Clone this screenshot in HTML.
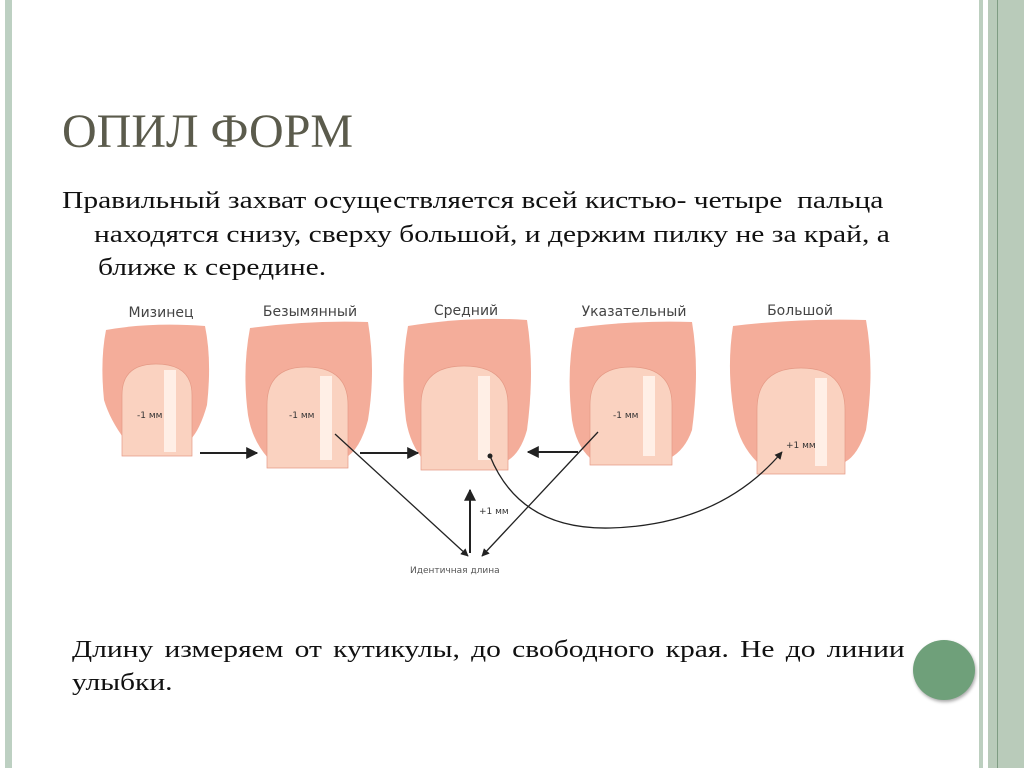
<!DOCTYPE html>
<html><head><meta charset="utf-8"><style>
body{margin:0;width:1024px;height:768px;background:#fff;position:relative;overflow:hidden;font-family:"Liberation Serif",serif}
.t{position:absolute;white-space:nowrap}
.b{font-size:24px;color:#111;transform:scaleX(1.23);transform-origin:0 0}
</style></head><body>
<div style="position:absolute;left:5px;top:0;width:7px;height:768px;background:#bdd0c2"></div>
<div style="position:absolute;left:979px;top:0;width:4px;height:768px;background:#bccfbf"></div>
<div style="position:absolute;left:988px;top:0;width:36px;height:768px;background:#b9cbba"></div>
<div style="position:absolute;left:997px;top:0;width:1px;height:768px;background:#7f9c83"></div>
<div class="t" style="left:62px;top:104px;font-size:48px;color:#5b5b4c">ОПИЛ ФОРМ</div>
<div class="t b" style="left:62px;top:188px">Правильный захват осуществляется всей кистью- четыре&nbsp; пальца</div>
<div class="t b" style="left:94px;top:222px">находятся снизу, сверху большой, и держим пилку не за край, а</div>
<div class="t b" style="left:98px;top:255px">ближе к середине.</div>
<div class="t b" style="left:72px;top:637px;width:677px;display:flex;justify-content:space-between"><span>Длину</span><span>измеряем</span><span>от</span><span>кутикулы,</span><span>до</span><span>свободного</span><span>края.</span><span>Не</span><span>до</span><span>линии</span></div>
<div class="t b" style="left:72px;top:670px">улыбки.</div>
<div style="position:absolute;left:913px;top:640px;width:62px;height:60px;border-radius:50%;background:#6fa07a;box-shadow:1px 2px 3px #aaa"></div>
<svg style="position:absolute;left:0;top:0" width="1024" height="768" font-family="DejaVu Sans, sans-serif">
<defs><marker id="a" viewBox="0 0 10 10" refX="9" refY="5" markerWidth="6" markerHeight="6" orient="auto"><path d="M0,0L10,5L0,10z" fill="#222"/></marker></defs>
<g fill="#f4ad9a">
<path d="M106,330 Q150,322 205,326 Q212,360 207,405 Q200,430 190,440 L125,440 Q110,420 104,400 Q100,360 106,330Z"/>
<path d="M250,328 Q310,320 368,322 Q376,370 368,420 Q360,450 345,458 L268,458 Q252,440 248,415 Q242,370 250,328Z"/>
<path d="M408,326 Q470,316 527,320 Q535,370 527,430 Q520,455 505,462 L425,462 Q410,445 406,420 Q400,370 408,326Z"/>
<path d="M575,328 Q635,320 692,322 Q700,370 692,430 Q685,450 670,458 L590,458 Q576,445 572,420 Q566,370 575,328Z"/>
<path d="M733,326 Q800,318 866,320 Q875,370 866,430 Q858,455 845,462 L757,462 Q740,445 735,420 Q726,370 733,326Z"/>
</g>
<g fill="#fad2c0" stroke="#e59a86" stroke-width="0.7">
<path d="M122,456 L122,395 Q122,364 156,364 Q192,364 192,395 L192,456Z"/>
<path d="M267,468 L267,405 Q267,367 306,367 Q348,367 348,405 L348,468Z"/>
<path d="M421,470 L421,405 Q421,366 464,366 Q508,366 508,405 L508,470Z"/>
<path d="M590,465 L590,405 Q590,367 631,367 Q672,367 672,405 L672,465Z"/>
<path d="M757,474 L757,410 Q757,368 801,368 Q845,368 845,410 L845,474Z"/>
</g>
<g fill="#fff4ec" opacity="0.85">
<rect x="164" y="370" width="12" height="82"/><rect x="320" y="376" width="12" height="84"/>
<rect x="478" y="376" width="12" height="84"/><rect x="643" y="376" width="12" height="80"/>
<rect x="815" y="378" width="12" height="88"/>
</g>
<g font-size="14" fill="#444" text-anchor="middle">
<text x="161" y="317">Мизинец</text><text x="310" y="316">Безымянный</text>
<text x="466" y="315">Средний</text><text x="634" y="316">Указательный</text>
<text x="800" y="315">Большой</text>
</g>
<g font-size="9" fill="#333">
<text x="137" y="418">-1 мм</text><text x="289" y="418">-1 мм</text>
<text x="613" y="418">-1 мм</text><text x="786" y="448">+1 мм</text>
<text x="479" y="514">+1 мм</text><text x="410" y="573" fill="#555">Идентичная длина</text>
</g>
<g stroke="#222" stroke-width="2" fill="none" marker-end="url(#a)">
<path d="M200,453 L257,453"/><path d="M360,453 L418,453"/><path d="M578,452 L528,452"/>
<path d="M470,553 L470,490" /></g>
<g stroke="#222" stroke-width="1.3" fill="none" marker-end="url(#a)">
<path d="M335,434 L468,556"/><path d="M598,432 L482,556"/>
<path d="M490,456 Q520,530 610,528 Q720,525 782,452"/>
</g>
<circle cx="490" cy="456" r="2.5" fill="#222"/>
</svg>
</body></html>
